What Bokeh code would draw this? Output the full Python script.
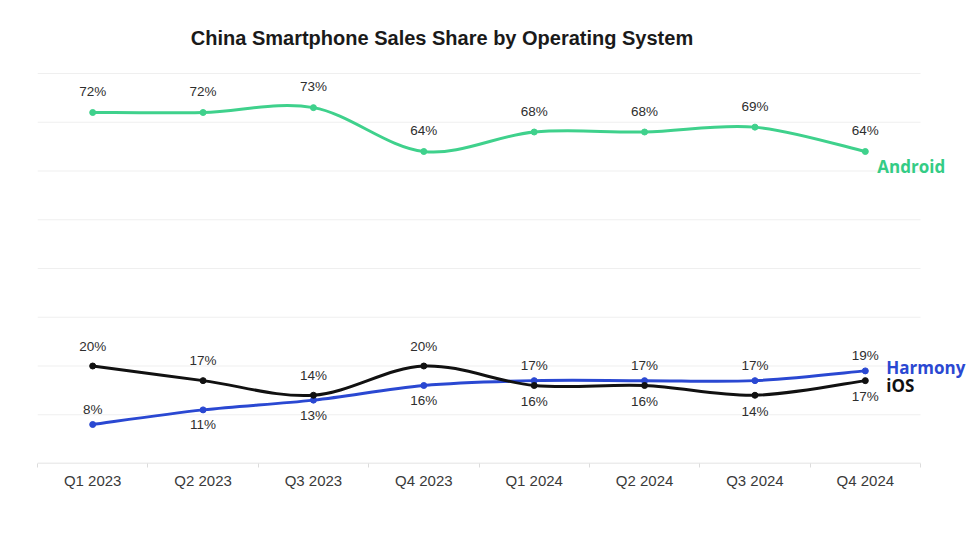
from bokeh.plotting import figure
from bokeh.models import Range1d, FixedTicker, Label, LabelSet, ColumnDataSource
from bokeh.core.properties import value
from bokeh.embed import file_html
from bokeh.resources import INLINE

# ---- data ----
quarters = ["Q1 2023", "Q2 2023", "Q3 2023", "Q4 2023",
            "Q1 2024", "Q2 2024", "Q3 2024", "Q4 2024"]
android = [72, 72, 73, 64, 68, 68, 69, 64]
harmony = [8, 11, 13, 16, 17, 17, 17, 19]
ios = [20, 17, 14, 20, 16, 16, 14, 17]
grid_values = [10, 20, 30, 40, 50, 60, 70, 80]
y_max = 80

# ---- style / layout ----
android_side = ["above"] * 8
harmony_side = ["above", "below", "below", "below", "above", "above", "above", "above"]
ios_side = ["above", "above", "above", "above", "below", "below", "below", "below"]

GREEN = "#3fd18c"
GREEN_TXT = "#34cc85"
BLUE = "#2a48d2"
BLACK = "#111111"
LABEL_FONT = "Liberation Sans"

W, H = 968, 555
LEFT = 37            # frame left (px)
BOTTOM_PX = 463      # y of the x axis (px from top)
PX_PER_CAT = 110.375
PX_PER_PCT = 4.875

xs = list(range(len(quarters)))
x_lo, x_hi = -0.5, len(quarters) - 0.5
x_end = x_lo + (W - LEFT) / PX_PER_CAT
y_end = BOTTOM_PX / PX_PER_PCT

p = figure(width=W, height=H, x_range=Range1d(x_lo, x_end),
           y_range=Range1d(0, y_end), output_backend="svg", toolbar_location=None,
           y_axis_location=None,
           min_border_left=LEFT, min_border_right=0, min_border_top=0,
           min_border_bottom=H - BOTTOM_PX)
p.outline_line_color = None
p.background_fill_color = "white"
p.border_fill_color = "white"

p.xaxis.ticker = FixedTicker(ticks=xs, minor_ticks=[x - 0.5 for x in xs] + [x_hi])
p.xaxis.major_label_overrides = {x: q for x, q in zip(xs, quarters)}
p.xaxis.major_tick_line_color = None
p.xaxis.major_tick_out = 0
p.xaxis.major_tick_in = 0
p.xaxis.minor_tick_line_color = "#dcdcdc"
p.xaxis.minor_tick_in = 0
p.xaxis.minor_tick_out = 4
p.xaxis.axis_line_color = None
p.xaxis.major_label_text_font = LABEL_FONT
p.xaxis.major_label_text_font_size = "15px"
p.xaxis.major_label_text_color = "#3a3a3a"
p.xaxis.major_label_standoff = 4

p.xgrid.visible = False
p.ygrid.visible = False

# gridlines and axis line, limited to the category span
p.segment(x0=[x_lo] * len(grid_values), x1=[x_hi] * len(grid_values),
          y0=grid_values, y1=grid_values, line_color="#efefef", line_width=1)
p.segment(x0=[x_lo], x1=[x_hi], y0=[0], y1=[0], line_color="#d9d9d9", line_width=1.5)


def smooth(vals):
    n = len(vals)
    d = dict(x0=[], y0=[], x1=[], y1=[], cx0=[], cy0=[], cx1=[], cy1=[])
    for i in range(n - 1):
        pm = max(i - 1, 0)
        pp = min(i + 2, n - 1)
        d["x0"].append(xs[i]); d["y0"].append(vals[i])
        d["x1"].append(xs[i + 1]); d["y1"].append(vals[i + 1])
        d["cx0"].append(xs[i] + (xs[i + 1] - xs[pm]) / 6)
        d["cy0"].append(vals[i] + (vals[i + 1] - vals[pm]) / 6)
        d["cx1"].append(xs[i + 1] - (xs[pp] - xs[i]) / 6)
        d["cy1"].append(vals[i + 1] - (vals[pp] - vals[i]) / 6)
    return ColumnDataSource(d)


def series(vals, color, sides, up, down):
    p.bezier(x0="x0", y0="y0", x1="x1", y1="y1", cx0="cx0", cy0="cy0",
             cx1="cx1", cy1="cy1", source=smooth(vals), line_color=color, line_width=3)
    p.scatter(xs, vals, size=6, color=color)
    src = ColumnDataSource(dict(x=xs, y=vals, t=[f"{v}%" for v in vals],
                                off=[up if s == "above" else -down for s in sides]))
    p.add_layout(LabelSet(x="x", y="y", text="t", y_offset="off", source=src,
                          text_align="center", text_baseline="middle",
                          text_font=value(LABEL_FONT), text_font_size="13.5px",
                          text_color="#2e2e2e"))


series(android, GREEN, android_side, 21, 15)
series(harmony, BLUE, harmony_side, 15, 15)
series(ios, BLACK, ios_side, 20, 16)

p.add_layout(Label(x=xs[-1], y=android[-1], x_offset=12, y_offset=-15, text="Android",
                   text_baseline="middle", text_font="Open Sans", text_font_style="bold",
                   text_font_size="17px", text_color=GREEN_TXT))
p.add_layout(Label(x=xs[-1], y=harmony[-1], x_offset=21, y_offset=3, text="Harmony",
                   text_baseline="middle", text_font="Open Sans", text_font_style="bold",
                   text_font_size="17px", text_color=BLUE))
p.add_layout(Label(x=xs[-1], y=ios[-1], x_offset=21, y_offset=-5, text="iOS",
                   text_baseline="middle", text_font="Open Sans", text_font_style="bold",
                   text_font_size="17px", text_color=BLACK))

p.add_layout(Label(x=(xs[0] + xs[-1]) / 2, y=y_max, x_offset=-37, y_offset=36,
                   text="China Smartphone Sales Share by Operating System",
                   text_align="center", text_baseline="middle",
                   text_font="Liberation Sans", text_font_style="bold",
                   text_font_size="20px", text_color="#1a1a1a"))

open("out.html", "w").write(file_html(p, INLINE))
